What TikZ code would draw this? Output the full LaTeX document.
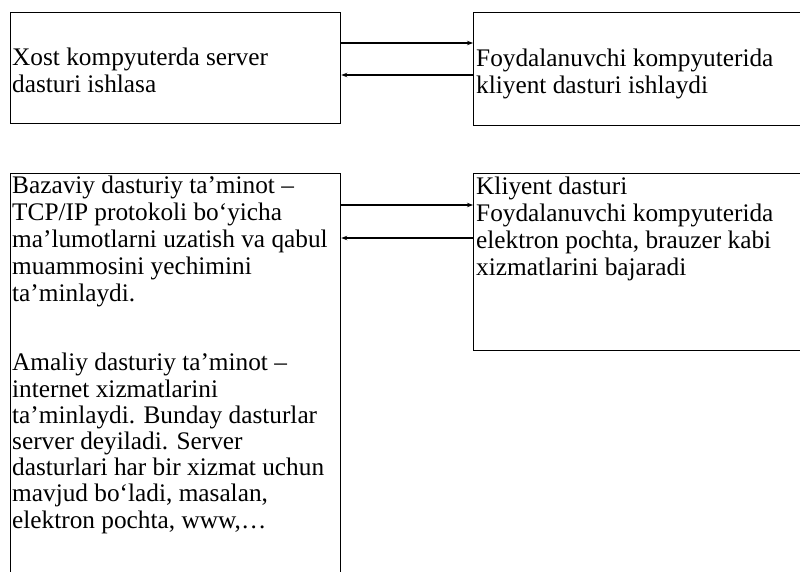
\documentclass[tikz,border=0pt]{standalone}
\usepackage{fontspec}
\setmainfont{Liberation Serif}
\usetikzlibrary{arrows.meta}
\begin{document}
\begin{tikzpicture}[x=1pt,y=-1pt,
  box/.style={draw=black, line width=1.3pt, rectangle, inner sep=0pt, anchor=north west},
  txt/.style={inner sep=0pt, anchor=base west, align=left, font=\fontsize{25.3}{27}\selectfont, text=black},
  arr/.style={line width=1.3pt, -{Stealth[length=6pt,width=4.5pt]}}]
\useasboundingbox (0,0) rectangle (800,571);
\node[box, minimum width=330pt, minimum height=111pt] (b1) at (10,12) {};
\node[box, minimum width=350pt, minimum height=113pt] (b2) at (473,12) {};
\node[box, minimum width=330pt, minimum height=430pt] (b3) at (10,173) {};
\node[box, minimum width=350pt, minimum height=177pt] (b4) at (473,173) {};
\node[txt] (t1) at (12,92) {Xost kompyuterda server\\dasturi ishlasa};
\node[txt] (t2) at (476,93) {Foydalanuvchi kompyuterida\\kliyent dasturi ishlaydi};
\node[txt] (t3) at (12,528) {Bazaviy dasturiy ta’minot –\\TCP/IP protokoli bo‘yicha\\ma’lumotlarni uzatish va qabul\\muammosini yechimini\\ta’minlaydi.\\[42pt]Amaliy dasturiy ta’minot –\\[-0.8pt]internet xizmatlarini\\[-0.8pt]ta’minlaydi. Bunday dasturlar\\[-0.8pt]server deyiladi. Server\\[-0.8pt]dasturlari har bir xizmat uchun\\[-0.8pt]mavjud bo‘ladi, masalan,\\[-0.8pt]elektron pochta, www,…};
\node[txt] (t4) at (476,275) {Kliyent dasturi\\Foydalanuvchi kompyuterida\\elektron pochta, brauzer kabi\\xizmatlarini bajaradi};
\draw[arr] (b1.east |- 0,43) -- (b2.west |- 0,43);
\draw[arr] (b2.west |- 0,75) -- (b1.east |- 0,75);
\draw[arr] (b3.east |- 0,205) -- (b4.west |- 0,205);
\draw[arr] (b4.west |- 0,238) -- (b3.east |- 0,238);
\end{tikzpicture}
\end{document}
